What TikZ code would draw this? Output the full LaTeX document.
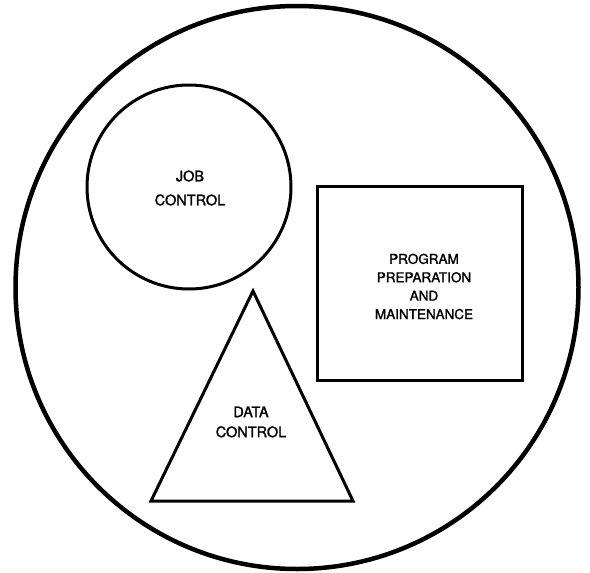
\documentclass[tikz,border=0pt]{standalone}
\usepackage{fontspec}
\setmainfont{TeX Gyre Heros}
\newfontfamily\lblfont{TeX Gyre Heros}[FakeBold=1.6]
\begin{document}
\begin{tikzpicture}[x=1pt,y=-1pt,
  outer/.style={line width=4.5pt},
  shapeline/.style={line width=3pt, line join=miter},
  lbl/.style={align=center, font=\lblfont\fontsize{14.5}{24}\selectfont, inner sep=0pt},
  lblrect/.style={align=center, font=\lblfont\fontsize{13.5}{18.4}\selectfont, inner sep=0pt},
  lbltri/.style={align=center, font=\lblfont\fontsize{14.5}{20}\selectfont, inner sep=0pt}]
\useasboundingbox (0,0) rectangle (590,573);
% outer circle
\node[draw, outer, circle, minimum size=563pt, inner sep=0pt] (outer) at (297,287.5) {};
% job control circle
\node[draw, shapeline, circle, minimum size=204pt, inner sep=0pt] (job) at (189,187) {};
\node[lbl] (jobtext) at (190,188) {JOB\\CONTROL};
% rectangle
\node[draw, shapeline, rectangle, minimum width=205pt, minimum height=194pt, inner sep=0pt] (ppm) at (420,283.5) {};
\node[lblrect] (ppmtext) at (424,286.5) {PROGRAM\\PREPARATION\\AND\\MAINTENANCE};
% triangle
\coordinate (apex) at (253,291);
\coordinate (bl) at (151,501);
\coordinate (br) at (353,501);
\draw[shapeline] (apex) -- (bl) -- (br) -- cycle;
\node[lbltri] (datatext) at (251,422) {DATA\\CONTROL};
\end{tikzpicture}
\end{document}
